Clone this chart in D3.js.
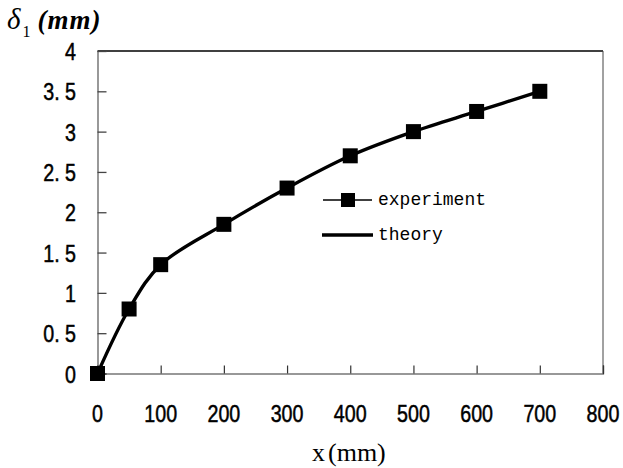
<!DOCTYPE html>
<html>
<head>
<meta charset="utf-8">
<script src="https://cdn.jsdelivr.net/npm/d3@7/dist/d3.min.js"></script>
<style>
  html, body { margin: 0; padding: 0; background: #fff; }
  svg { display: block; }
  .tick-label { font-family: "Liberation Sans", Arial, sans-serif; font-size: 24px; fill: #000; stroke: #000; stroke-width: 0.5px; }
  .legend-text { font-family: "Liberation Mono", "Courier New", monospace; font-size: 18px; fill: #000; }
</style>
</head>
<body>
<svg id="chart" width="623" height="468"></svg>
<script>
// Deflection δ1 along x: measured points and theoretical curve
const xPositions = [0, 50, 100, 200, 300, 400, 500, 600, 700];
const experimentValues = [0, 0.8, 1.35, 1.85, 2.3, 2.7, 3.0, 3.25, 3.5];
const theoryValues = [0, 0.8, 1.35, 1.85, 2.3, 2.7, 3.0, 3.25, 3.5];
const xTicks = [0, 100, 200, 300, 400, 500, 600, 700, 800];
const yTicks = [0, 0.5, 1, 1.5, 2, 2.5, 3, 3.5, 4];
const yTickLabels = ["0", "0. 5", "1", "1. 5", "2", "2. 5", "3", "3. 5", "4"];
const seriesNames = ["experiment", "theory"];

const svg = d3.select("#chart");
const plot = { left: 97.5, right: 603, top: 51, bottom: 373.5 };

const x = d3.scaleLinear().domain([0, 800]).range([plot.left, plot.right]);
const y = d3.scaleLinear().domain([0, 4]).range([plot.bottom, plot.top]);

// frame: top and right borders
svg.append("line").attr("x1", plot.left).attr("x2", plot.right)
  .attr("y1", plot.top).attr("y2", plot.top)
  .attr("stroke", "#000").attr("stroke-width", 1.3);
svg.append("line").attr("x1", plot.right).attr("x2", plot.right)
  .attr("y1", plot.top).attr("y2", plot.bottom)
  .attr("stroke", "#444").attr("stroke-width", 1);

// y axis with inward ticks
const yAxis = d3.axisRight(y).tickValues(yTicks).tickSize(9).tickFormat("");
const gy = svg.append("g").attr("transform", `translate(${plot.left},0)`).call(yAxis);
gy.select(".domain").attr("stroke", "#555").attr("stroke-width", 1.2);
gy.selectAll(".tick line").attr("stroke", "#444").attr("stroke-width", 1.3);

// x axis with inward ticks
const xAxis = d3.axisTop(x).tickValues(xTicks).tickSize(8).tickFormat("");
const gx = svg.append("g").attr("transform", `translate(0,${plot.bottom})`).call(xAxis);
gx.select(".domain").attr("stroke", "#333").attr("stroke-width", 1.2);
gx.selectAll(".tick line").attr("stroke", "#333").attr("stroke-width", 1.2);

// tick labels (tall, slightly condensed digits)
svg.selectAll(".ylab").data(yTicks).enter().append("text")
  .attr("class", "tick-label")
  .attr("transform", d => `translate(76,${y(d) + 9}) scale(0.82,1)`)
  .attr("text-anchor", "end")
  .text((d, i) => yTickLabels[i]);

svg.selectAll(".xlab").data(xTicks).enter().append("text")
  .attr("class", "tick-label")
  .attr("transform", d => `translate(${x(d)},422) scale(0.82,1)`)
  .attr("text-anchor", "middle")
  .text(d => d);

// axis titles
const yTitle = svg.append("text").attr("x", 7).attr("y", 29)
  .attr("font-family", "'Liberation Serif', 'Times New Roman', serif")
  .attr("font-size", 29).attr("font-style", "italic").attr("fill", "#000");
yTitle.append("tspan").text("δ");
yTitle.append("tspan").attr("font-size", 16).attr("font-style", "normal").attr("dy", 8).attr("dx", 2).text("1");
yTitle.append("tspan").attr("dy", -8).attr("dx", 7).attr("font-size", 27)
  .attr("font-weight", "bold").attr("letter-spacing", 1).text("(mm)");

const xTitle = svg.append("text").attr("x", 312).attr("y", 461)
  .attr("font-family", "'Liberation Serif', 'Times New Roman', serif")
  .attr("font-size", 26).attr("fill", "#000");
xTitle.append("tspan").text("x");
xTitle.append("tspan").attr("dx", 3).text("(mm)");

// series
const expData = xPositions.map((d, i) => ({ x: d, y: experimentValues[i] }));
const theoryData = xPositions.map((d, i) => ({ x: d, y: theoryValues[i] }));
const curve = d3.line().curve(d3.curveCatmullRom.alpha(0.5)).x(d => x(d.x)).y(d => y(d.y));

svg.append("path").datum(expData)
  .attr("fill", "none").attr("stroke", "#000").attr("stroke-width", 1.2)
  .attr("d", curve);

svg.append("path").datum(theoryData)
  .attr("fill", "none").attr("stroke", "#000").attr("stroke-width", 3.4)
  .attr("stroke-linejoin", "round")
  .attr("d", curve);

const ms = 15;
svg.selectAll(".marker").data(expData).enter().append("rect")
  .attr("x", d => x(d.x) - ms / 2).attr("y", d => y(d.y) - ms / 2)
  .attr("width", ms).attr("height", ms).attr("fill", "#000");

// legend
const lg = svg.append("g");
lg.append("line").attr("x1", 323).attr("x2", 372).attr("y1", 200).attr("y2", 200)
  .attr("stroke", "#000").attr("stroke-width", 1.3);
lg.append("rect").attr("x", 341).attr("y", 193).attr("width", 14).attr("height", 14).attr("fill", "#000");
lg.append("text").attr("class", "legend-text").attr("x", 378).attr("y", 205).text(seriesNames[0]);
lg.append("line").attr("x1", 322).attr("x2", 373).attr("y1", 235).attr("y2", 235)
  .attr("stroke", "#000").attr("stroke-width", 3.4);
lg.append("text").attr("class", "legend-text").attr("x", 378).attr("y", 240).text(seriesNames[1]);
</script>
</body>
</html>
